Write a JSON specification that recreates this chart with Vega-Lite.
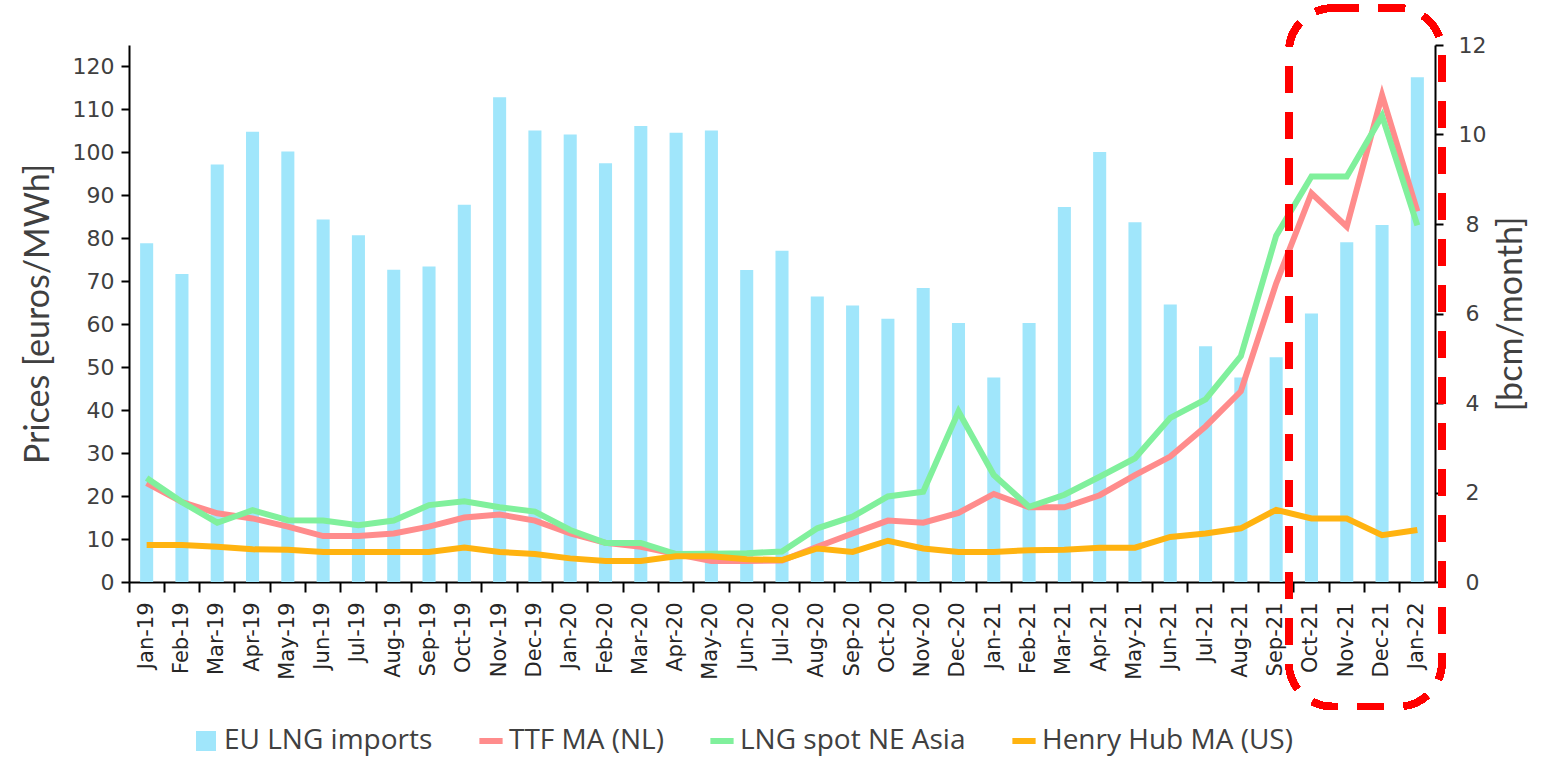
{
  "$schema": "https://vega.github.io/schema/vega-lite/v6.json",
  "width": 1306,
  "height": 537,
  "autosize": {"type": "none"},
  "padding": {"left": 129, "top": 45, "right": 112, "bottom": 180},
  "background": "white",
  "config": {"view": {"stroke": null}},
  "data": {"values": [
    {"month": "Jan-19", "imports": 7.57, "ttf": 23.0, "lng": 24.2, "hh": 8.6},
    {"month": "Feb-19", "imports": 6.88, "ttf": 18.6, "lng": 18.6, "hh": 8.6},
    {"month": "Mar-19", "imports": 9.33, "ttf": 16.0, "lng": 13.8, "hh": 8.2},
    {"month": "Apr-19", "imports": 10.06, "ttf": 14.8, "lng": 16.7, "hh": 7.6},
    {"month": "May-19", "imports": 9.62, "ttf": 12.9, "lng": 14.4, "hh": 7.5},
    {"month": "Jun-19", "imports": 8.10, "ttf": 10.7, "lng": 14.3, "hh": 7.0},
    {"month": "Jul-19", "imports": 7.75, "ttf": 10.7, "lng": 13.2, "hh": 7.0},
    {"month": "Aug-19", "imports": 6.98, "ttf": 11.3, "lng": 14.3, "hh": 7.0},
    {"month": "Sep-19", "imports": 7.05, "ttf": 12.9, "lng": 17.9, "hh": 7.0},
    {"month": "Oct-19", "imports": 8.43, "ttf": 15.0, "lng": 18.8, "hh": 8.0},
    {"month": "Nov-19", "imports": 10.83, "ttf": 15.7, "lng": 17.4, "hh": 7.0},
    {"month": "Dec-19", "imports": 10.09, "ttf": 14.3, "lng": 16.4, "hh": 6.5},
    {"month": "Jan-20", "imports": 10.00, "ttf": 11.3, "lng": 12.1, "hh": 5.5},
    {"month": "Feb-20", "imports": 9.36, "ttf": 9.1, "lng": 9.1, "hh": 4.9},
    {"month": "Mar-20", "imports": 10.19, "ttf": 8.2, "lng": 9.1, "hh": 4.9},
    {"month": "Apr-20", "imports": 10.04, "ttf": 6.5, "lng": 6.5, "hh": 6.0},
    {"month": "May-20", "imports": 10.09, "ttf": 4.9, "lng": 6.6, "hh": 6.0},
    {"month": "Jun-20", "imports": 6.97, "ttf": 4.9, "lng": 6.7, "hh": 5.3},
    {"month": "Jul-20", "imports": 7.40, "ttf": 5.0, "lng": 7.1, "hh": 5.1},
    {"month": "Aug-20", "imports": 6.38, "ttf": 8.2, "lng": 12.5, "hh": 7.8},
    {"month": "Sep-20", "imports": 6.18, "ttf": 11.3, "lng": 15.2, "hh": 7.0},
    {"month": "Oct-20", "imports": 5.88, "ttf": 14.3, "lng": 19.9, "hh": 9.6},
    {"month": "Nov-20", "imports": 6.57, "ttf": 13.8, "lng": 21.0, "hh": 7.8},
    {"month": "Dec-20", "imports": 5.79, "ttf": 16.1, "lng": 39.7, "hh": 7.0},
    {"month": "Jan-21", "imports": 4.57, "ttf": 20.5, "lng": 24.9, "hh": 7.0},
    {"month": "Feb-21", "imports": 5.79, "ttf": 17.4, "lng": 17.5, "hh": 7.4},
    {"month": "Mar-21", "imports": 8.38, "ttf": 17.4, "lng": 20.3, "hh": 7.5},
    {"month": "Apr-21", "imports": 9.61, "ttf": 20.2, "lng": 24.5, "hh": 8.0},
    {"month": "May-21", "imports": 8.04, "ttf": 24.9, "lng": 28.8, "hh": 8.0},
    {"month": "Jun-21", "imports": 6.20, "ttf": 29.2, "lng": 38.2, "hh": 10.5},
    {"month": "Jul-21", "imports": 5.27, "ttf": 36.2, "lng": 42.5, "hh": 11.3},
    {"month": "Aug-21", "imports": 4.57, "ttf": 44.4, "lng": 52.6, "hh": 12.5},
    {"month": "Sep-21", "imports": 5.02, "ttf": 69.5, "lng": 80.6, "hh": 16.8},
    {"month": "Oct-21", "imports": 6.00, "ttf": 90.5, "lng": 94.4, "hh": 14.8},
    {"month": "Nov-21", "imports": 7.59, "ttf": 82.7, "lng": 94.4, "hh": 14.8},
    {"month": "Dec-21", "imports": 7.98, "ttf": 113.3, "lng": 108.5, "hh": 10.9},
    {"month": "Jan-22", "imports": 11.28, "ttf": 86.3, "lng": 83.0, "hh": 12.1}
  ]},
  "encoding": {
    "x": {
      "field": "month", "type": "ordinal", "sort": null,
      "scale": {"paddingInner": 0, "paddingOuter": 0},
      "axis": {
        "title": null, "bandPosition": 0, "labelAngle": -90,
        "labelFont": "DejaVu Sans", "labelFontSize": 21, "labelColor": "#262626",
        "labelPadding": 10, "tickSize": 10, "tickWidth": 2, "tickColor": "black",
        "domainColor": "black", "domainWidth": 2, "grid": false
      }
    }
  },
  "layer": [
    {
      "mark": {"type": "bar", "width": {"band": 0.37}},
      "encoding": {
        "y": {
          "field": "imports", "type": "quantitative",
          "scale": {"domain": [0, 12]},
          "axis": {
            "orient": "right", "title": "[bcm/month]", "values": [0, 2, 4, 6, 8, 10, 12],
            "titleAngle": -90, "titleBaseline": "top",
            "titleFont": "Lato", "titleFontSize": 34, "titleFontWeight": "normal", "titleColor": "#404040",
            "titlePadding": 9,
            "labelFont": "DejaVu Sans", "labelFontSize": 22, "labelColor": "#404040",
            "labelAlign": "center", "labelPadding": 29,
            "tickSize": 8, "tickWidth": 2, "tickColor": "black",
            "domainColor": "black", "domainWidth": 2, "grid": false
          }
        },
        "color": {"datum": "imports"}
      }
    },
    {
      "transform": [{"fold": ["ttf", "lng", "hh"], "as": ["series", "price"]}],
      "mark": {"type": "line", "strokeWidth": 6},
      "encoding": {
        "y": {
          "field": "price", "type": "quantitative",
          "scale": {"domain": [0, 125]},
          "axis": {
            "orient": "left", "title": "Prices [euros/MWh]",
            "values": [0, 10, 20, 30, 40, 50, 60, 70, 80, 90, 100, 110, 120],
            "titleFont": "Lato", "titleFontSize": 34, "titleFontWeight": "normal", "titleColor": "#404040",
            "titlePadding": 17,
            "labelFont": "DejaVu Sans", "labelFontSize": 22, "labelColor": "#404040", "labelPadding": 7,
            "tickSize": 8, "tickWidth": 2, "tickColor": "black",
            "domainColor": "black", "domainWidth": 2, "grid": false
          }
        },
        "color": {
          "field": "series", "type": "nominal",
          "scale": {
            "domain": ["imports", "ttf", "lng", "hh"],
            "range": ["#A0E6FB", "#FF8C8C", "#80F09C", "#FFB310"]
          },
          "legend": {
            "title": null, "orient": "none", "direction": "horizontal",
            "legendX": 63, "legendY": 682,
            "labelExpr": "{'imports': 'EU LNG imports', 'ttf': 'TTF MA (NL)', 'lng': 'LNG spot NE Asia', 'hh': 'Henry Hub MA (US)'}[datum.value]",
            "labelFont": "Open Sans", "labelFontSize": 28, "labelColor": "#404040", "labelLimit": 600,
            "labelOffset": 4, "columnPadding": 34, "symbolStrokeWidth": 5,
            "encode": {
              "symbols": {
                "update": {
                  "shape": {"signal": "datum.value === 'imports' ? 'square' : 'stroke'"},
                  "size": {"signal": "datum.value === 'imports' ? 400 : 540"},
                  "fill": {"scale": "color", "field": "value"},
                  "stroke": {"scale": "color", "field": "value"},
                  "strokeWidth": {"signal": "datum.value === 'imports' ? 0 : 6"},
                  "opacity": {"value": 1},
                  "fillOpacity": {"value": 1}
                }
              }
            }
          }
        }
      }
    },
    {
      "mark": {
        "type": "rect", "fill": "transparent", "stroke": "#FF0000", "strokeWidth": 7,
        "strokeDash": [26, 20], "cornerRadius": 44, "clip": false,
        "xOffset": -5, "x2Offset": 7
      },
      "encoding": {
        "x": {"datum": "Oct-21", "bandPosition": 0},
        "x2": {"datum": "Jan-22", "bandPosition": 1},
        "y": {"datum": 133.6, "type": "quantitative", "scale": {"domain": [0, 125]}, "axis": null},
        "y2": {"datum": -29}
      }
    }
  ],
  "resolve": {"scale": {"y": "independent"}}
}
